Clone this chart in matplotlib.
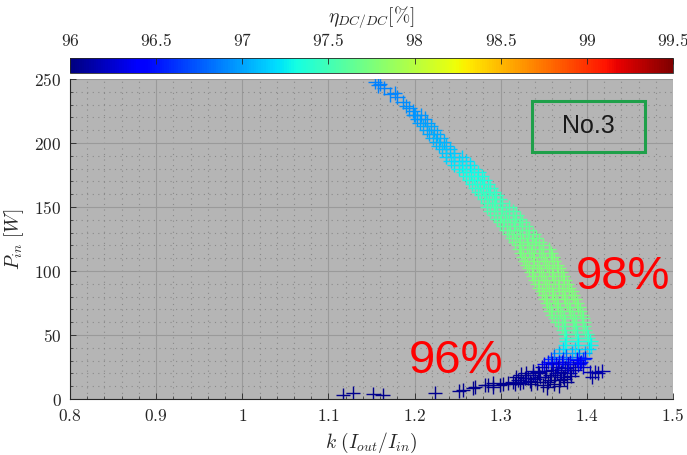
import matplotlib
matplotlib.use("Agg")
import matplotlib.pyplot as plt
from matplotlib.ticker import AutoMinorLocator, FixedLocator, FixedFormatter
from matplotlib.patches import Rectangle

plt.rcParams['mathtext.fontset'] = 'cm'

# ---------------- data ----------------
x_ticks = [0.8, 0.9, 1.0, 1.1, 1.2, 1.3, 1.4, 1.5]
x_tick_labels = ["0.8", "0.9", "1", "1.1", "1.2", "1.3", "1.4", "1.5"]
y_ticks = [0, 50, 100, 150, 200, 250]
y_tick_labels = ["0", "50", "100", "150", "200", "250"]
cb_ticks = [96, 96.5, 97, 97.5, 98, 98.5, 99, 99.5]
cb_tick_labels = ["96", "96.5", "97", "97.5", "98", "98.5", "99", "99.5"]

# sparse points at the top of the trail
top_k = [1.154, 1.158, 1.160, 1.165, 1.172, 1.177, 1.180, 1.186, 1.190, 1.194, 1.198, 1.200]
top_p = [248, 245, 246, 243, 238, 239, 236, 232, 229, 227, 225, 222]
top_eta = [96.88, 96.88, 96.88, 96.88, 96.9, 96.9, 96.9, 96.92, 96.92, 96.93, 96.94, 96.95]

# dense band: (P_in, efficiency, list of k values)
band_rows = [
    (222, 96.95, [1.199, 1.207]),
    (219, 96.95, [1.203, 1.212]),
    (216, 96.98, [1.206, 1.215]),
    (213, 97.00, [1.210, 1.219]),
    (210, 97.00, [1.214, 1.223]),
    (207, 97.02, [1.217, 1.226]),
    (204, 97.05, [1.221, 1.230]),
    (201, 97.05, [1.225, 1.234]),
    (198, 97.08, [1.228, 1.237]),
    (195, 97.10, [1.232, 1.241]),
    (192, 97.12, [1.237, 1.246]),
    (189, 97.15, [1.237, 1.246, 1.255]),
    (186, 97.18, [1.242, 1.251, 1.260]),
    (183, 97.22, [1.246, 1.255, 1.264]),
    (180, 97.26, [1.251, 1.260, 1.269]),
    (177, 97.29, [1.256, 1.265, 1.274]),
    (174, 97.32, [1.260, 1.269, 1.278]),
    (171, 97.35, [1.263, 1.272, 1.281]),
    (168, 97.37, [1.267, 1.276, 1.285]),
    (165, 97.40, [1.270, 1.279, 1.288]),
    (162, 97.43, [1.274, 1.283, 1.292]),
    (159, 97.45, [1.277, 1.286, 1.295]),
    (156, 97.48, [1.281, 1.290, 1.299]),
    (153, 97.50, [1.284, 1.293, 1.302]),
    (150, 97.52, [1.284, 1.292, 1.302, 1.310]),
    (147, 97.54, [1.288, 1.296, 1.306, 1.314]),
    (144, 97.56, [1.292, 1.300, 1.310, 1.318]),
    (141, 97.58, [1.296, 1.304, 1.314, 1.322]),
    (138, 97.60, [1.299, 1.307, 1.317, 1.325]),
    (135, 97.62, [1.303, 1.311, 1.321, 1.329]),
    (132, 97.64, [1.307, 1.315, 1.325, 1.333]),
    (129, 97.66, [1.310, 1.319, 1.329, 1.338]),
    (126, 97.68, [1.313, 1.322, 1.332, 1.341]),
    (123, 97.70, [1.317, 1.326, 1.336, 1.345]),
    (120, 97.71, [1.321, 1.330, 1.340, 1.349]),
    (117, 97.72, [1.322, 1.333, 1.345, 1.356]),
    (114, 97.73, [1.324, 1.335, 1.347, 1.358]),
    (111, 97.74, [1.326, 1.337, 1.349, 1.360]),
    (108, 97.75, [1.328, 1.339, 1.351, 1.362]),
    (105, 97.75, [1.331, 1.342, 1.354, 1.365]),
    (102, 97.75, [1.333, 1.344, 1.356, 1.367]),
    (99, 97.76, [1.336, 1.347, 1.359, 1.370]),
    (96, 97.76, [1.338, 1.349, 1.361, 1.372]),
    (93, 97.76, [1.340, 1.351, 1.363, 1.374]),
    (90, 97.76, [1.343, 1.354, 1.366, 1.377]),
    (87, 97.76, [1.345, 1.356, 1.368, 1.379]),
    (84, 97.76, [1.348, 1.359, 1.371, 1.382]),
    (81, 97.75, [1.350, 1.361, 1.373, 1.384]),
    (78, 97.75, [1.352, 1.363, 1.375, 1.386]),
    (75, 97.74, [1.354, 1.365, 1.377, 1.388]),
    (72, 97.73, [1.356, 1.367, 1.379, 1.390]),
    (69, 97.72, [1.358, 1.369, 1.381, 1.392]),
    (66, 97.70, [1.360, 1.371, 1.383, 1.394]),
    (63, 97.68, [1.363, 1.373, 1.385, 1.395]),
    (60, 97.66, [1.366, 1.375, 1.387, 1.396]),
    (57, 97.63, [1.371, 1.384, 1.396]),
    (54, 97.58, [1.373, 1.386, 1.398]),
    (51, 97.52, [1.375, 1.388, 1.400]),
    (48, 97.45, [1.376, 1.389, 1.401]),
    (45, 97.36, [1.376, 1.390, 1.404]),
    (42, 97.28, [1.375, 1.390, 1.405]),
    (39, 97.18, [1.372, 1.386, 1.402]),
    (36, 97.02, [1.368, 1.383, 1.398]),
    (33, 96.80, [1.362, 1.376, 1.391]),
    (31, 96.62, [1.358, 1.372, 1.388, 1.396]),
    (29, 96.50, [1.355, 1.368, 1.381, 1.393]),
    (27, 96.38, [1.350, 1.364, 1.378, 1.390]),
]

# low-power cluster at the bottom
low_k = [1.117, 1.1285, 1.152, 1.163, 1.2237, 1.2516, 1.256, 1.268, 1.270, 1.282,
         1.285, 1.291, 1.291, 1.299, 1.303, 1.308, 1.314, 1.317, 1.320, 1.322,
         1.326, 1.328, 1.332, 1.334, 1.337, 1.340, 1.343, 1.346, 1.348, 1.351,
         1.355, 1.357, 1.360, 1.361, 1.363, 1.365, 1.369, 1.371, 1.372, 1.375,
         1.377, 1.377, 1.380, 1.384, 1.389, 1.398, 1.404, 1.406, 1.409, 1.413, 1.418,
         1.318, 1.323, 1.329, 1.335, 1.338, 1.342, 1.345, 1.349, 1.352, 1.354,
         1.358, 1.362, 1.366, 1.368, 1.370, 1.374, 1.378, 1.382, 1.386, 1.392, 1.396]
low_p = [3.1, 4.7, 3.9, 3.1, 4.7, 6.3, 7.1, 8.6, 9.4, 11.0,
         11.0, 9.4, 12.5, 11.0, 11.8, 12.5, 13.3, 11.8, 14.9, 12.5,
         13.3, 16.5, 16.5, 14.1, 18.8, 15.7, 21.2, 17.2, 25.0, 17.2,
         13.3, 14.9, 28.2, 22.7, 18.8, 20.4, 14.9, 29.0, 17.2, 24.3,
         13.3, 22.7, 20.4, 25.0, 30.6, 32.1, 21.2, 17.2, 21.2, 20.4, 22.0,
         17.0, 19.0, 20.0, 12.0, 22.0, 13.0, 20.0, 11.0, 22.0, 9.0,
         19.0, 12.0, 25.0, 10.0, 21.0, 16.0, 27.0, 18.0, 23.0, 28.0, 25.0]
low_eta = [96.05, 96.05, 96.05, 96.05, 96.05, 96.05, 96.05, 96.05, 96.05, 96.05,
           96.05, 96.05, 96.05, 96.05, 96.05, 96.05, 96.08, 96.05, 96.08, 96.05,
           96.08, 96.1, 96.1, 96.08, 96.1, 96.1, 96.12, 96.1, 96.2, 96.1,
           96.05, 96.05, 96.3, 96.15, 96.1, 96.12, 96.05, 96.35, 96.1, 96.2,
           96.05, 96.15, 96.12, 96.2, 96.45, 96.5, 96.15, 96.1, 96.15, 96.12, 96.15,
           96.05, 96.06, 96.08, 96.04, 96.1, 96.04, 96.08, 96.04, 96.1, 96.03,
           96.08, 96.04, 96.2, 96.04, 96.1, 96.06, 96.3, 96.08, 96.15, 96.35, 96.25]

# ---------------- assemble ----------------
k_all = list(top_k)
p_all = list(top_p)
e_all = list(top_eta)
for p, e, ks in band_rows:
    for kk in ks:
        k_all.append(kk)
        p_all.append(p)
        e_all.append(e)
k_all += low_k
p_all += low_p
e_all += low_eta

# ---------------- figure ----------------
fig = plt.figure(figsize=(6.87, 4.55), dpi=100)
ax = fig.add_axes([70/687, 56/455, 603/687, 320/455])
cax = fig.add_axes([70/687, (455-73)/455, 603/687, 15/455])

ax.set_facecolor('#b5b5b5')
ax.set_axisbelow(True)

sc = ax.scatter(k_all, p_all, c=e_all, cmap='jet', vmin=96, vmax=99.5,
                marker='+', s=110, linewidths=1.0, zorder=3)

ax.set_xlim(0.8, 1.5)
ax.set_ylim(0, 250)
ax.xaxis.set_major_locator(FixedLocator(x_ticks))
ax.xaxis.set_major_formatter(FixedFormatter(['$%s$' % t for t in x_tick_labels]))
ax.yaxis.set_major_locator(FixedLocator(y_ticks))
ax.yaxis.set_major_formatter(FixedFormatter(['$%s$' % t for t in y_tick_labels]))
ax.xaxis.set_minor_locator(AutoMinorLocator(5))
ax.yaxis.set_minor_locator(AutoMinorLocator(5))

ax.grid(which='major', color='#9a9a9a', linewidth=0.8, linestyle='-')
ax.grid(which='minor', color='#8a8a8a', linewidth=0.8, linestyle=(0, (1, 4)))

for s in ['top', 'right']:
    ax.spines[s].set_visible(False)
for s in ['left', 'bottom']:
    ax.spines[s].set_color('#262626')
    ax.spines[s].set_linewidth(0.8)

ax.tick_params(which='major', direction='in', length=4, width=0.6, colors='#262626',
               labelsize=12.5, pad=6)
ax.tick_params(which='minor', direction='in', length=2, width=0.5, colors='#262626')

ax.set_xlabel(r'$k\ (I_{out}/I_{in})$', fontsize=14, color='#262626', labelpad=4)
ax.set_ylabel(r'$P_{in}\ [W]$', fontsize=14, color='#262626', labelpad=6)

# annotations
box = Rectangle((0.766, 0.772), 0.1876, 0.159, transform=ax.transAxes,
                fill=False, edgecolor='#1fa04a', linewidth=2.2, zorder=5)
ax.add_patch(box)
ax.text(0.859, 0.852, 'No.3', transform=ax.transAxes, ha='center', va='center',
        fontsize=18, family='Liberation Sans', color='#1a1a1a', zorder=6)
ax.text(0.917, 0.38, '98%', transform=ax.transAxes, ha='center', va='center',
        fontsize=34, family='Liberation Sans', color='#ff0000', zorder=6)
ax.text(0.640, 0.118, '96%', transform=ax.transAxes, ha='center', va='center',
        fontsize=34, family='Liberation Sans', color='#ff0000', zorder=6)

# colorbar
cb = fig.colorbar(sc, cax=cax, orientation='horizontal')
cb.set_ticks(cb_ticks)
cb.set_ticklabels(['$%s$' % t for t in cb_tick_labels])
cax.xaxis.set_ticks_position('top')
cax.xaxis.set_label_position('top')
cax.tick_params(direction='in', length=4, width=0.6, colors='#262626', labelsize=12.5, pad=6)
cb.outline.set_linewidth(0.6)
cb.outline.set_edgecolor('#262626')
cb.set_label(r'$\eta_{DC/DC} [\%]$', fontsize=14, color='#262626', labelpad=7)

fig.savefig('out.png', dpi=100)
